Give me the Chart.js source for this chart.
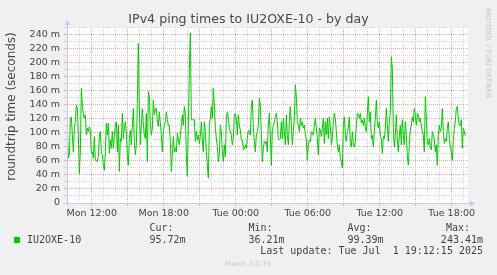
<!DOCTYPE html>
<html><head><meta charset="utf-8">
<script src="https://cdn.jsdelivr.net/npm/chart.js@4.4.1/dist/chart.umd.min.js"></script>
<style>html,body{margin:0;padding:0;background:#F0F0F0;}canvas{display:block}</style>
</head><body>
<canvas id="c" width="497" height="275"></canvas>
<script>
// ---- data ----
const chartTitle = 'IPv4 ping times to IU2OXE-10 - by day';
const yAxisTitle = 'roundtrip time (seconds)';
const seriesName = 'IU2OXE-10';
// ping times in milliseconds, one sample every 5 minutes, starting Mon ~09:58
const pingMs = [
102,64,69,121,123,97,73,107,116,140,
135,97,42,73,164,140,126,121,126,97,
107,102,109,104,71,73,64,95,61,61,
59,66,97,102,71,69,54,47,73,114,
97,114,71,90,78,102,78,97,111,116,
73,111,45,92,88,128,92,107,116,100,
66,54,92,104,83,111,135,88,69,83,
142,228,135,83,111,135,114,97,92,128,
59,159,152,111,97,107,147,126,135,135,
119,109,130,114,97,73,102,111,116,130,
119,111,111,88,45,69,95,73,78,73,
100,90,83,97,111,126,111,138,126,69,
38,111,192,243,119,119,119,119,88,102,
90,97,85,95,116,90,73,116,102,73,
54,36,111,121,138,121,164,140,107,92,
80,59,69,111,102,73,59,83,66,121,
130,121,107,102,97,83,92,126,128,121,
97,126,111,104,90,90,76,78,83,78,
92,104,102,97,140,147,107,88,73,97,
102,111,
150,140,97,59,78,88,85,88,73,111,
128,97,54,102,111,116,123,128,116,92,
90,92,116,92,121,102,83,126,97,83,
116,138,111,83,102,121,169,152,116,111,
102,121,111,116,107,111,97,92,61,83,
90,88,102,100,97,111,121,107,92,69,
107,104,95,107,121,85,116,97,121,92,
123,111,83,92,116,128,121,102,83,73,
83,64,59,50,111,123,97,88,102,107,
123,85,80,102,83,80,88,111,128,126,
121,128,114,119,111,121,107,102,126,152,
116,130,92,97,80,102,121,147,116,107,
116,97,92,71,95,92,107,135,111,88,
116,130,209,192,107,80,97,126,90,73,
97,111,83,119,97,83,116,97,69,54,
83,104,111,123,116,135,126,111,128,126,
116,121,111,102,97,73,152,121,85,83,
92,78,76,102,97,90,73,83,54,97,
111,102,107,135,102,85,92,88,107,116,
92,80,73,61,88,107,116,135,138,121,
111,111,119,78,107,102,96
];
const startHour = 9.97;          // hours since Mon 00:00
const stepHours = 5 / 60;        // 5-minute samples
const viewHours = [9.94, 43.36]; // visible time window
const tickHours = [12, 18, 24, 30, 36, 42];
const tickLabels = ['Mon 12:00', 'Mon 18:00', 'Tue 00:00', 'Tue 06:00', 'Tue 12:00', 'Tue 18:00'];
const yRange = [0, 251.4];
const statLabels = ['Cur:', 'Min:', 'Avg:', 'Max:'];
const statValues = ['95.72m', '36.21m', '99.39m', '243.41m'];
const lastUpdate = 'Last update: Tue Jul  1 19:12:15 2025';
const footer = 'Munin 2.0.75';
const watermark = 'RRDTOOL / TOBI OETIKER';

// ---- chart ----
const GREEN = '#00CC00';
const AXIS = '#C8C8F4';
const MAJ = '#E6A6A6';
const MIN = '#D2D2D2';
const points = pingMs.map((v, i) => ({ x: startHour + i * stepHours, y: v }));

const bgPlugin = {
  id: 'bg',
  beforeDraw(chart) {
    const { ctx, chartArea: a } = chart;
    ctx.save();
    ctx.fillStyle = '#F0F0F0';
    ctx.fillRect(0, 0, chart.width, chart.height);
    ctx.fillStyle = '#FFFFFF';
    ctx.fillRect(a.left, a.top, a.right - a.left, a.bottom - a.top);
    ctx.restore();
  }
};

const decorPlugin = {
  id: 'decor',
  afterDraw(chart) {
    const { ctx, chartArea: a } = chart;
    ctx.save();
    // axes with arrows
    ctx.strokeStyle = AXIS; ctx.fillStyle = AXIS; ctx.lineWidth = 1;
    const ax = Math.round(a.left) + 0.5, by = Math.round(a.bottom) + 0.5;
    ctx.beginPath(); ctx.moveTo(a.left - 4, by); ctx.lineTo(a.right + 3, by); ctx.stroke();
    ctx.beginPath(); ctx.moveTo(a.right + 2, by - 3); ctx.lineTo(a.right + 7, by); ctx.lineTo(a.right + 2, by + 3); ctx.closePath(); ctx.fill();
    ctx.beginPath(); ctx.moveTo(ax, a.bottom + 3); ctx.lineTo(ax, a.top - 3); ctx.stroke();
    ctx.beginPath(); ctx.moveTo(ax - 3, a.top - 2); ctx.lineTo(ax, a.top - 7); ctx.lineTo(ax + 3, a.top - 2); ctx.closePath(); ctx.fill();

    // title
    ctx.fillStyle = '#484848';
    ctx.font = '12.6px "DejaVu Sans"';
    ctx.textAlign = 'center'; ctx.textBaseline = 'middle';
    ctx.fillText(chartTitle, 248.5, 19.5);

    // y axis title
    ctx.save();
    ctx.translate(11.5, 106.5);
    ctx.rotate(-Math.PI / 2);
    ctx.font = '12px "DejaVu Sans"';
    ctx.fillText(yAxisTitle, 0, 0);
    ctx.restore();

    // watermark
    ctx.save();
    ctx.translate(487.5, 53);
    ctx.rotate(Math.PI / 2);
    ctx.fillStyle = '#C4C4C4';
    ctx.font = '7px "DejaVu Sans"';
    ctx.fillText(watermark, 0, 0);
    ctx.restore();

    // legend
    ctx.fillStyle = GREEN;
    ctx.fillRect(14, 237, 6, 6);
    ctx.fillStyle = '#444';
    ctx.font = '10px "DejaVu Sans Mono"';
    ctx.textAlign = 'left';
    ctx.fillText(seriesName, 27, 240);
    const cols = [149.5, 248.5, 347.5];
    for (let i = 0; i < 3; i++) {
      ctx.fillText(statLabels[i], cols[i], 228.5);
      ctx.fillText(statValues[i], cols[i], 240);
    }
    ctx.textAlign = 'right';
    ctx.fillText(statLabels[3], 470, 228.5);
    ctx.fillText(statValues[3], 483, 240);
    ctx.fillText(lastUpdate, 483, 251.5);

    // footer
    ctx.textAlign = 'center';
    ctx.fillStyle = '#C8C8C8';
    ctx.font = '7px "DejaVu Sans"';
    ctx.fillText(footer, 248, 264.5);
    ctx.restore();
  }
};

new Chart(document.getElementById('c'), {
  type: 'line',
  data: { datasets: [{ data: points, borderColor: GREEN, borderWidth: 1, pointRadius: 0, tension: 0, fill: false }] },
  options: {
    responsive: false, animation: false, devicePixelRatio: 1,
    parsing: true,
    layout: { padding: { left: 0, top: 27, right: 29, bottom: 0 } },
    plugins: { legend: { display: false }, tooltip: { enabled: false }, title: { display: false } },
    scales: {
      x: {
        type: 'linear', min: viewHours[0], max: viewHours[1],
        afterBuildTicks: s => { const t = []; for (let h = 10; h <= 43; h++) t.push({ value: h }); s.ticks = t; },
        ticks: {
          autoSkip: false, maxRotation: 0, minRotation: 0, padding: 2,
          font: { family: 'DejaVu Sans', size: 9.5 }, color: '#444',
          callback: v => { const i = tickHours.indexOf(v); return i >= 0 ? tickLabels[i] : ''; }
        },
        grid: {
          color: c => (c.tick && c.tick.value % 3 === 0) ? MAJ : MIN,
          tickColor: c => (c.tick && c.tick.value % 3 === 0) ? MAJ : 'rgba(0,0,0,0)',
          tickLength: 3
        },
        border: { display: false, dash: [1, 1] },
        afterFit: s => { s.height = 72; }
      },
      y: {
        min: yRange[0], max: yRange[1],
        afterBuildTicks: s => { const t = []; for (let v = 0; v <= 250; v += 10) t.push({ value: v }); s.ticks = t; },
        ticks: {
          autoSkip: false, padding: 4,
          font: { family: 'DejaVu Sans', size: 9.5 }, color: '#444',
          callback: v => (v % 20 ? '' : (v === 0 ? '0' : v + ' m'))
        },
        grid: {
          color: c => (c.tick && c.tick.value % 20 === 0) ? MAJ : MIN,
          tickColor: c => (c.tick && c.tick.value % 20 === 0) ? MAJ : MIN,
          tickLength: 3
        },
        border: { display: false, dash: [1, 1] },
        afterFit: s => { s.width = 67; }
      }
    }
  },
  plugins: [bgPlugin, decorPlugin]
});
</script>
</body></html>
